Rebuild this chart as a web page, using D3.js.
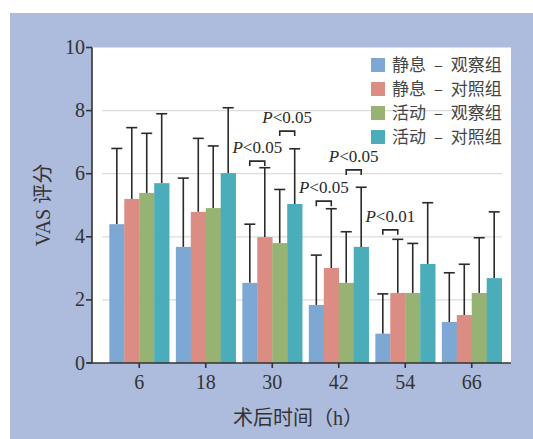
<!DOCTYPE html>
<html><head><meta charset="utf-8">
<script src="https://cdn.jsdelivr.net/npm/d3@7"></script>
<style>
html,body{margin:0;padding:0;background:#fff;}
svg{display:block;}
</style></head>
<body>
<script>
const categories = ["6","18","30","42","54","66"];
const seriesNames = ["静息 – 观察组","静息 – 对照组","活动 – 观察组","活动 – 对照组"];
const colors = ["#7ea8d4","#db8d84","#97b373","#4badb9"];
const restObs   = [4.4, 3.68, 2.54, 1.84, 0.93, 1.3];
const restCtl   = [5.2, 4.79, 3.99, 3.01, 2.22, 1.52];
const actObs    = [5.39, 4.91, 3.8, 2.54, 2.22, 2.22];
const actCtl    = [5.7, 6.02, 5.04, 3.68, 3.14, 2.69];
const restObsErr= [6.8, 5.86, 4.4, 3.42, 2.19, 2.86];
const restCtlErr= [7.46, 7.12, 6.19, 4.89, 3.92, 3.13];
const actObsErr = [7.28, 6.88, 5.5, 4.16, 3.79, 3.97];
const actCtlErr = [7.9, 8.09, 6.79, 5.57, 5.08, 4.79];
const yTicks = [0,2,4,6,8,10];
const brackets = [
  {cat:"30", a:0, b:1, y:6.4,  label:"0.05"},
  {cat:"30", a:2, b:3, y:7.35, label:"0.05"},
  {cat:"42", a:0, b:1, y:5.13, label:"0.05"},
  {cat:"42", a:2, b:3, y:6.12, label:"0.05"},
  {cat:"54", a:0, b:1, y:4.22, label:"0.01"}
];

const values = [restObs, restCtl, actObs, actCtl];
const errs = [restObsErr, restCtlErr, actObsErr, actCtlErr];

const W = 533, H = 439;
const svg = d3.select("body").append("svg").attr("width", W).attr("height", H);
svg.append("rect").attr("x",10).attr("y",13).attr("width",W-10).attr("height",H-13).attr("fill","#adbbdd");

const pL = 92, pR = 511, pT = 47.5, pB = 363;
svg.append("rect").attr("x",pL).attr("y",pT).attr("width",pR-pL).attr("height",pB-pT).attr("fill","#fff");

const y = d3.scaleLinear().domain([0,10]).range([pB, pT]);
const x = d3.scaleBand().domain(categories).range([106, 505]).paddingInner(0.1).paddingOuter(0.05);
const xs = d3.scaleBand().domain(d3.range(4)).range([0, x.bandwidth()]);

const serif = "'Liberation Serif','DejaVu Serif',serif";
const cjk = "'Noto Sans CJK SC','Noto Sans',sans-serif";

// grid
svg.append("g").selectAll("line").data(yTicks.filter(d=>d>0 && d<10)).join("line")
  .attr("x1",102).attr("x2",502).attr("y1",d=>y(d)).attr("y2",d=>y(d))
  .attr("stroke","#dcdcdc").attr("stroke-width",1.2);

// bars
const groups = svg.append("g").selectAll("g").data(categories).join("g")
  .attr("transform", d=>`translate(${x(d)},0)`);
groups.each(function(cat, ci){
  const g = d3.select(this);
  for (let s=0; s<4; s++){
    const v = values[s][ci], e = errs[s][ci];
    const cx = xs(s) + xs.bandwidth()/2;
    g.append("line").attr("x1",cx).attr("x2",cx).attr("y1",y(v)).attr("y2",y(e))
      .attr("stroke","#2a2a2a").attr("stroke-width",1.6);
    g.append("line").attr("x1",cx-5.5).attr("x2",cx+5.5).attr("y1",y(e)).attr("y2",y(e))
      .attr("stroke","#2a2a2a").attr("stroke-width",1.6);
  }
  for (let s=0; s<4; s++){
    const v = values[s][ci];
    g.append("rect").attr("x", xs(s)).attr("y", y(v)).attr("width", xs.bandwidth()+0.3)
      .attr("height", y(0)-y(v)).attr("fill", colors[s]);
  }
});

// brackets
brackets.forEach(b=>{
  const x1 = x(b.cat) + xs(b.a) + xs.bandwidth()/2;
  const x2 = x(b.cat) + xs(b.b) + xs.bandwidth()/2;
  const yy = y(b.y);
  svg.append("path").attr("d",`M${x1},${yy+5}V${yy}H${x2}V${yy+5}`)
    .attr("fill","none").attr("stroke","#2a2a2a").attr("stroke-width",1.6);
  const t = svg.append("text").attr("x",(x1+x2)/2).attr("y",yy-8)
    .attr("text-anchor","middle").attr("font-family",serif).attr("font-size",17).attr("fill","#2a2a2a");
  t.append("tspan").attr("font-style","italic").text("P");
  t.append("tspan").text("<"+b.label);
});

// axes
const ax = svg.append("g").attr("stroke","#333").attr("stroke-width",1.6);
ax.append("line").attr("x1",pL).attr("x2",pL).attr("y1",pT).attr("y2",pB);
ax.append("line").attr("x1",pL-5).attr("x2",pR).attr("y1",pB).attr("y2",pB);
yTicks.forEach(t=>{
  ax.append("line").attr("x1",pL-6).attr("x2",pL).attr("y1",y(t)).attr("y2",y(t));
});
categories.forEach(c=>{
  const cx = x(c)+x.bandwidth()/2;
  ax.append("line").attr("x1",cx).attr("x2",cx).attr("y1",pB).attr("y2",pB+5);
});
svg.append("g").selectAll("text").data(yTicks).join("text")
  .attr("x",pL-7).attr("y",d=>y(d)+6.5).attr("text-anchor","end")
  .attr("font-family",serif).attr("font-size",20).attr("fill","#333").text(d=>d);
svg.append("g").selectAll("text").data(categories).join("text")
  .attr("x",d=>x(d)+x.bandwidth()/2).attr("y",389).attr("text-anchor","middle")
  .attr("font-family",serif).attr("font-size",20).attr("fill","#333").text(d=>d);

// axis titles
const yt = svg.append("text").attr("transform","translate(50,205) rotate(-90)")
  .attr("text-anchor","middle").attr("fill","#333").attr("font-size",20);
yt.append("tspan").attr("font-family",serif).text("VAS ");
yt.append("tspan").attr("font-family",cjk).text("评分");
const xt = svg.append("text").attr("x",298).attr("y",425).attr("text-anchor","middle")
  .attr("fill","#333").attr("font-size",20);
xt.append("tspan").attr("font-family",cjk).text("术后时间（");
xt.append("tspan").attr("font-family",serif).text("h");
xt.append("tspan").attr("font-family",cjk).text("）");

// legend
const lg = svg.append("g").selectAll("g").data(seriesNames).join("g")
  .attr("transform",(d,i)=>`translate(371,${58+i*24})`);
lg.append("rect").attr("width",14).attr("height",14).attr("fill",(d,i)=>colors[i]);
lg.append("text").attr("x",21).attr("y",13).attr("font-family",cjk).attr("font-size",17)
  .attr("word-spacing",4).attr("fill","#444").text(d=>d);
</script>
</body></html>
